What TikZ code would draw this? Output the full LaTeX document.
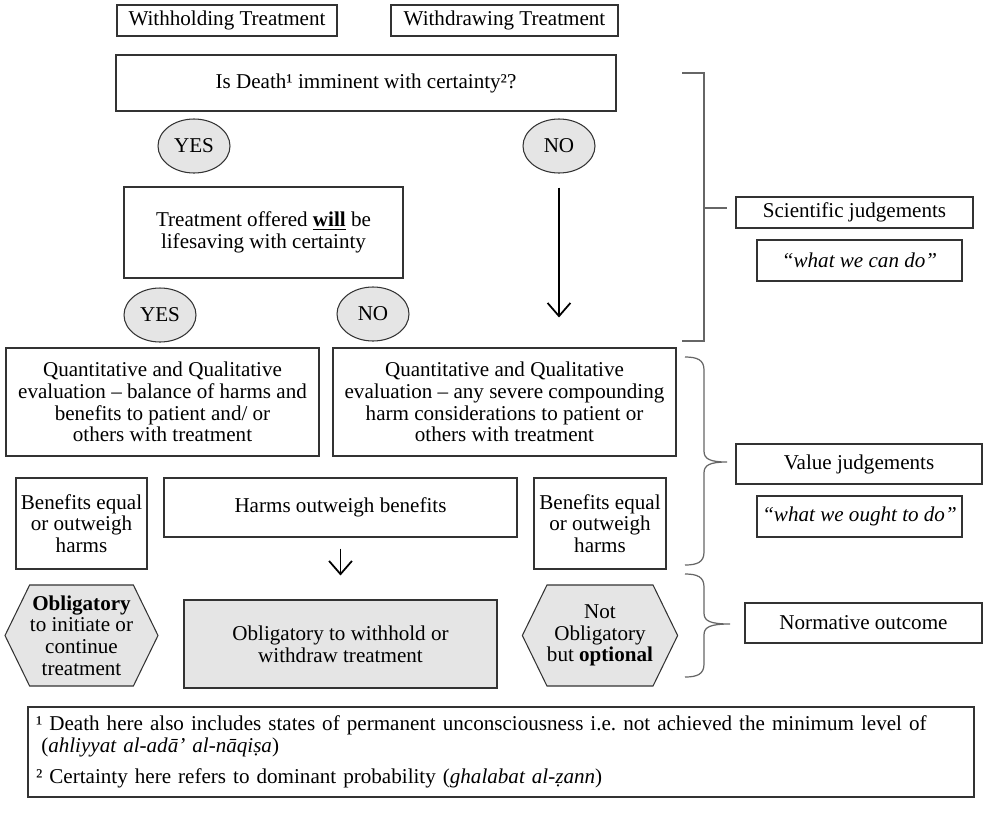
\documentclass[tikz,border=0pt]{standalone}
\usepackage{fontspec}
\setmainfont{Liberation Serif}
\usetikzlibrary{shapes.geometric,shapes.symbols,arrows.meta}

\begin{document}
\begin{tikzpicture}[
    font=\fontsize{12}{12.4}\selectfont,
    box/.style={draw=black!80, line width=0.6pt, align=center, inner sep=0pt},
    answer/.style={ellipse, draw=black!80, line width=0.6pt, fill=gray!20,
      minimum width=1.44cm, minimum height=1.08cm, inner sep=0pt},
    outcome/.style={signal, signal to=east and west, signal pointer angle=128,
      draw=black!80, line width=0.6pt, fill=gray!20, align=center, inner sep=0pt,
      minimum width=3.06cm, minimum height=2.02cm},
    bracket/.style={draw=black!60, line width=0.7pt},
    arr/.style={-{Straight Barb[length=7.5pt,width=13pt]}, line width=1pt}
  ]
  \useasboundingbox (0,0) rectangle (19.76,-16.24);

  % decision tree
  \node[box, minimum width=4.4cm, minimum height=0.62cm] (withhold) at (4.54,-0.41) {Withholding Treatment};
  \node[box, minimum width=4.54cm, minimum height=0.62cm] (withdraw) at (10.09,-0.41) {Withdrawing Treatment};
  \node[box, minimum width=10cm, minimum height=1.12cm] (death) at (7.32,-1.66) {Is Death¹ imminent with certainty²?};
  \node[answer] (yes1) at (3.88,-2.92) {YES};
  \node[answer] (no1) at (11.18,-2.92) {NO};
  \node[box, minimum width=5.58cm, minimum height=1.82cm] (lifesave) at (5.27,-4.65)
    {Treatment offered \underline{\textbf{will}} be\\lifesaving with certainty};
  \node[answer] (yes2) at (3.2,-6.3) {YES};
  \node[answer] (no2) at (7.46,-6.28) {NO};
  \node[box, minimum width=6.26cm, minimum height=2.16cm] (quantL) at (3.25,-8.04)
    {Quantitative and Qualitative\\evaluation – balance of harms and\\benefits to patient and/ or\\others with treatment};
  \node[box, minimum width=6.86cm, minimum height=2.16cm] (quantR) at (10.09,-8.04)
    {Quantitative and Qualitative\\evaluation – any severe compounding\\harm considerations to patient or\\others with treatment};
  \node[box, minimum width=2.62cm, minimum height=1.82cm] (benefitL) at (1.63,-10.47) {Benefits equal\\or outweigh\\harms};
  \node[box, minimum width=7.06cm, minimum height=1.18cm] (harms) at (6.81,-10.15) {Harms outweigh benefits};
  \node[box, minimum width=2.64cm, minimum height=1.82cm] (benefitR) at (12.0,-10.47) {Benefits equal\\or outweigh\\harms};
  \node[outcome] (obligatory) at (1.63,-12.71) {\textbf{Obligatory}\\to initiate or\\continue\\treatment};
  \node[box, fill=gray!20, minimum width=6.26cm, minimum height=1.76cm] (withholdOut) at (6.81,-12.88)
    {Obligatory to withhold or\\withdraw treatment};
  \node[outcome] (optional) at (12.0,-12.71) {Not\\Obligatory\\but \textbf{optional}};

  % judgement labels
  \node[box, minimum width=4.74cm, minimum height=0.62cm] (scientific) at (17.09,-4.25) {Scientific judgements};
  \node[box, minimum width=4.1cm, minimum height=0.82cm] (cando) at (17.19,-5.21) {\textit{“what we can do”}};
  \node[box, minimum width=4.92cm, minimum height=0.8cm] (value) at (17.18,-9.28) {Value judgements};
  \node[box, minimum width=4.1cm, minimum height=0.82cm] (ought) at (17.19,-10.33) {\textit{“what we ought to do”}};
  \node[box, minimum width=4.74cm, minimum height=0.8cm] (normative) at (17.27,-12.46) {Normative outcome};

  \node[box, minimum width=18.92cm, minimum height=1.8cm, text width=18.6cm, align=left] (notes) at (10.02,-15.04)
    {¹ Death here also includes states of permanent unconsciousness i.e.\ not achieved the minimum level of\\
     \hspace*{0.25em}(\textit{ahliyyat al-adā’ al-nāqiṣa})\\[5pt]
     ² Certainty here refers to dominant probability (\textit{ghalabat al-ẓann})};

  \begin{scope}[arr]
    \draw[shorten <=0.28cm, shorten >=0.6cm] (no1) -- (no1 |- quantR.north);
    \draw[shorten <=0.22cm, shorten >=0.48cm] (harms) -- (withholdOut);
  \end{scope}

  % brackets
  \coordinate (scitip) at (14.54,-4.16);
  \draw[bracket] (13.64,-1.46) -- (14.08,-1.46) -- (14.08,-6.82) -- (13.64,-6.82);
  \draw[bracket] (14.08,-4.16) -- (scitip);
  \draw[bracket] (13.7,-7.14) .. controls (13.95,-7.14) and (14.08,-7.2) .. (14.08,-7.4)
    -- (14.08,-9.02) .. controls (14.08,-9.18) and (14.2,-9.24) .. (14.54,-9.24)
    .. controls (14.2,-9.24) and (14.08,-9.3) .. (14.08,-9.46)
    -- (14.08,-11.04) .. controls (14.08,-11.24) and (13.95,-11.3) .. (13.7,-11.3);
  \draw[bracket] (13.7,-11.48) .. controls (13.95,-11.48) and (14.08,-11.54) .. (14.08,-11.74)
    -- (14.08,-12.26) .. controls (14.08,-12.42) and (14.2,-12.48) .. (14.6,-12.48)
    .. controls (14.2,-12.48) and (14.08,-12.54) .. (14.08,-12.7)
    -- (14.08,-13.28) .. controls (14.08,-13.48) and (13.95,-13.54) .. (13.7,-13.54);
\end{tikzpicture}
\end{document}
